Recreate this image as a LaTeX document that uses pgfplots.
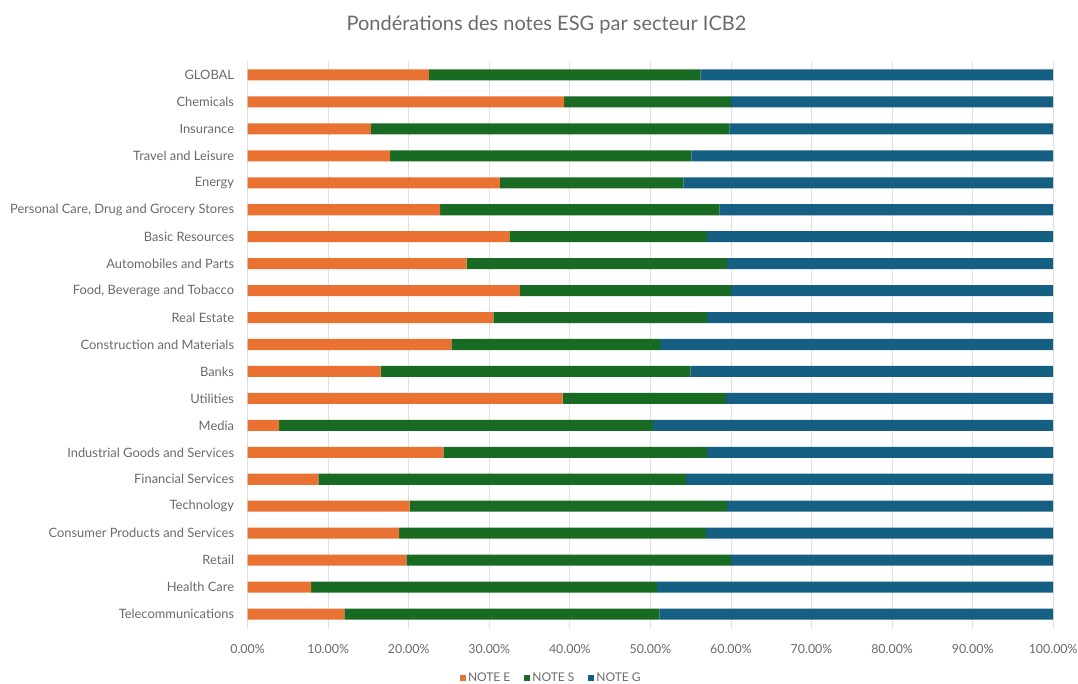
\documentclass[border=0pt]{standalone}
\usepackage{fontspec}
\setmainfont{Lato}
\usepackage{pgfplots}
\pgfplotsset{compat=1.18}
\usepackage{pgfplotstable}
\definecolor{cE}{HTML}{E97132}
\definecolor{cS}{HTML}{196B24}
\definecolor{cG}{HTML}{156082}
\definecolor{txt}{HTML}{6A6A6A}
\definecolor{gridc}{HTML}{E0E0E0}

\pgfplotstableread{
idx E S G
0 22.5 33.7 43.8
1 39.3 20.7 40.0
2 15.3 44.5 40.2
3 17.7 37.4 44.9
4 31.3 22.8 45.9
5 23.9 34.7 41.4
6 32.5 24.5 43.0
7 27.2 32.3 40.5
8 33.8 26.2 40.0
9 30.5 26.5 43.0
10 25.3 25.9 48.8
11 16.5 38.5 45.0
12 39.1 20.3 40.6
13 3.9 46.4 49.7
14 24.3 32.7 43.0
15 8.8 45.6 45.6
16 20.1 39.4 40.5
17 18.8 38.1 43.1
18 19.7 40.3 40.0
19 7.9 42.9 49.2
20 12.0 39.1 48.9
}\data

\begin{document}
\begin{tikzpicture}
\useasboundingbox (0pt,0pt) rectangle (1078pt,684pt);
\begin{axis}[
  at={(247.6pt,56.5pt)}, anchor=south west,
  scale only axis, width=805.6pt, height=566pt,
  xbar stacked, bar width=0.41,
  y dir=reverse,
  ymin=-0.5, ymax=20.5, xmin=0, xmax=100,
  ytick={0,...,20},
  yticklabels={GLOBAL,Chemicals,Insurance,Travel and Leisure,Energy,{Personal Care, Drug and Grocery Stores},Basic Resources,Automobiles and Parts,{Food, Beverage and Tobacco},Real Estate,Construction and Materials,Banks,Utilities,Media,Industrial Goods and Services,Financial Services,Technology,Consumer Products and Services,Retail,Health Care,Telecommunications},
  xtick={0,10,...,100},
  xticklabel={\pgfmathprintnumber[fixed,fixed zerofill,precision=2]{\tick}\%},
  /pgf/number format/assume math mode=true,
  xmajorgrids, grid style={gridc, line width=0.8pt},
  axis line style={draw=none},
  tick style={draw=none},
  yticklabel style={font=\fontsize{12.9}{15}\selectfont, text=txt, xshift=-10pt},
  xticklabel style={font=\fontsize{12.4}{14}\selectfont, text=txt, yshift=-13pt},
  title={Pondérations des notes ESG par secteur ICB2},
  title style={at={(axis description cs:0.371,1.054)}, anchor=center, font=\fontsize{20}{22}\selectfont, text=txt},
  legend style={at={(axis description cs:0.377,-0.089)}, anchor=center, draw=none, fill=none,
    legend columns=3, font=\fontsize{12}{14}\selectfont, text=txt,
    /tikz/every even column/.append style={column sep=12pt}},
  legend image code/.code={\fill[#1] (0pt,-3pt) rectangle (6pt,3pt);},
]
\addplot[fill=cE, draw=none] table[x=E, y=idx]{\data};
\addplot[fill=cS, draw=none] table[x=S, y=idx]{\data};
\addplot[fill=cG, draw=none] table[x=G, y=idx]{\data};
\legend{NOTE E, NOTE S, NOTE G}
\end{axis}
\end{tikzpicture}
\end{document}
